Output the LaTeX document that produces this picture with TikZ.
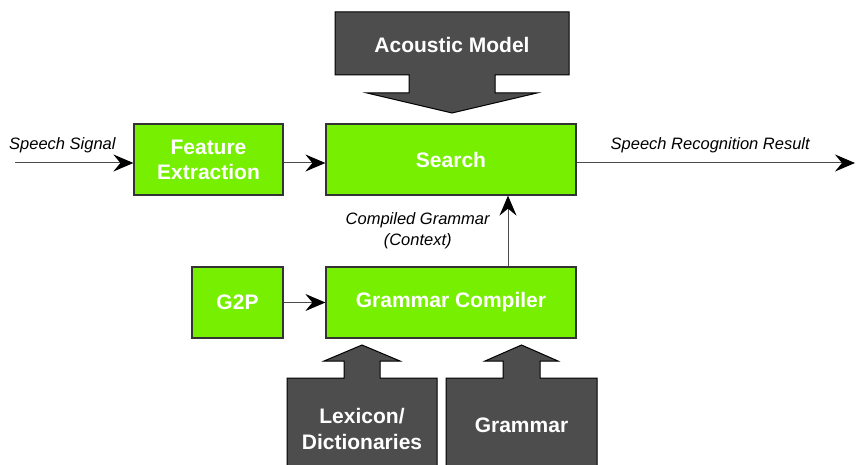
\documentclass[tikz,border=0pt]{standalone}
\usepackage{fontspec}
\setmainfont{Liberation Sans}
\usetikzlibrary{arrows.meta}
\definecolor{stagegreen}{RGB}{118,240,0}
\definecolor{modelgray}{RGB}{77,77,77}
\tikzset{
  stage/.style={draw=black!80,line width=1.2pt,fill=stagegreen,text=white,font=\bfseries\fontsize{21}{25}\selectfont,align=center,minimum height=71pt,inner sep=0pt},
  model/.style={draw=black,line width=1pt,fill=modelgray},
  modeltext/.style={text=white,font=\bfseries\fontsize{21}{26}\selectfont,align=center},
  flow/.style={-{Stealth[length=20pt,width=17pt,inset=7pt,color=black]},draw=black!70,line width=1pt},
  lbl/.style={font=\itshape\fontsize{16.5}{21}\selectfont,align=center}
}
\begin{document}
\begin{tikzpicture}[x=1pt,y=-1pt]
\useasboundingbox (0,0) rectangle (856,465);
\clip (0,0) rectangle (856,465);
% free ends of the signal path
\coordinate (sig) at (15,163);
\coordinate (res) at (855,163);
% green stages
\node[stage,minimum width=149pt] (fe) at (208.5,159.5) {Feature\\Extraction};
\node[stage,minimum width=250pt] (search) at (451,159.5) {Search};
\node[stage,minimum width=91pt] (g2p) at (237.5,302.5) {G2P};
\node[stage,minimum width=250pt] (gc) at (451,302.5) {Grammar Compiler};
% knowledge sources
\draw[model] (335,12) -- (569,12) -- (569,75) -- (495,75) -- (495,93) -- (537,93) -- (452,113)
  -- (367,93) -- (409,93) -- (409,75) -- (335,75) -- cycle;
\node[modeltext] (am) at (452,45) {Acoustic Model};
\draw[model] (287,470) -- (287,378) -- (344,378) -- (344,361) -- (324,361) -- (362,345)
  -- (400,361) -- (380,361) -- (380,378) -- (437,378) -- (437,470) -- cycle;
\node[modeltext] (lex) at (362,429) {Lexicon/\\Dictionaries};
\draw[model] (446,470) -- (446,378) -- (503,378) -- (503,361) -- (485,361) -- (521.5,345)
  -- (558,361) -- (540,361) -- (540,378) -- (597,378) -- (597,470) -- cycle;
\node[modeltext] (gram) at (521.5,425) {Grammar};
% connectors
\draw[flow] (sig) -- (sig -| fe.west) node[lbl,pos=.4,above=6pt] {Speech Signal};
\draw[flow] (fe.east |- sig) -- (search.west |- sig);
\draw[flow] (search.east |- res) -- (res) node[lbl,pos=.48,above=6pt] {Speech Recognition Result};
\draw[flow] (g2p) -- (gc);
\draw[flow] ([xshift=57pt]gc.north) -- ([xshift=57pt]search.south)
  node[lbl,midway,left=14.5pt] {Compiled Grammar\\(Context)};
\end{tikzpicture}
\end{document}
